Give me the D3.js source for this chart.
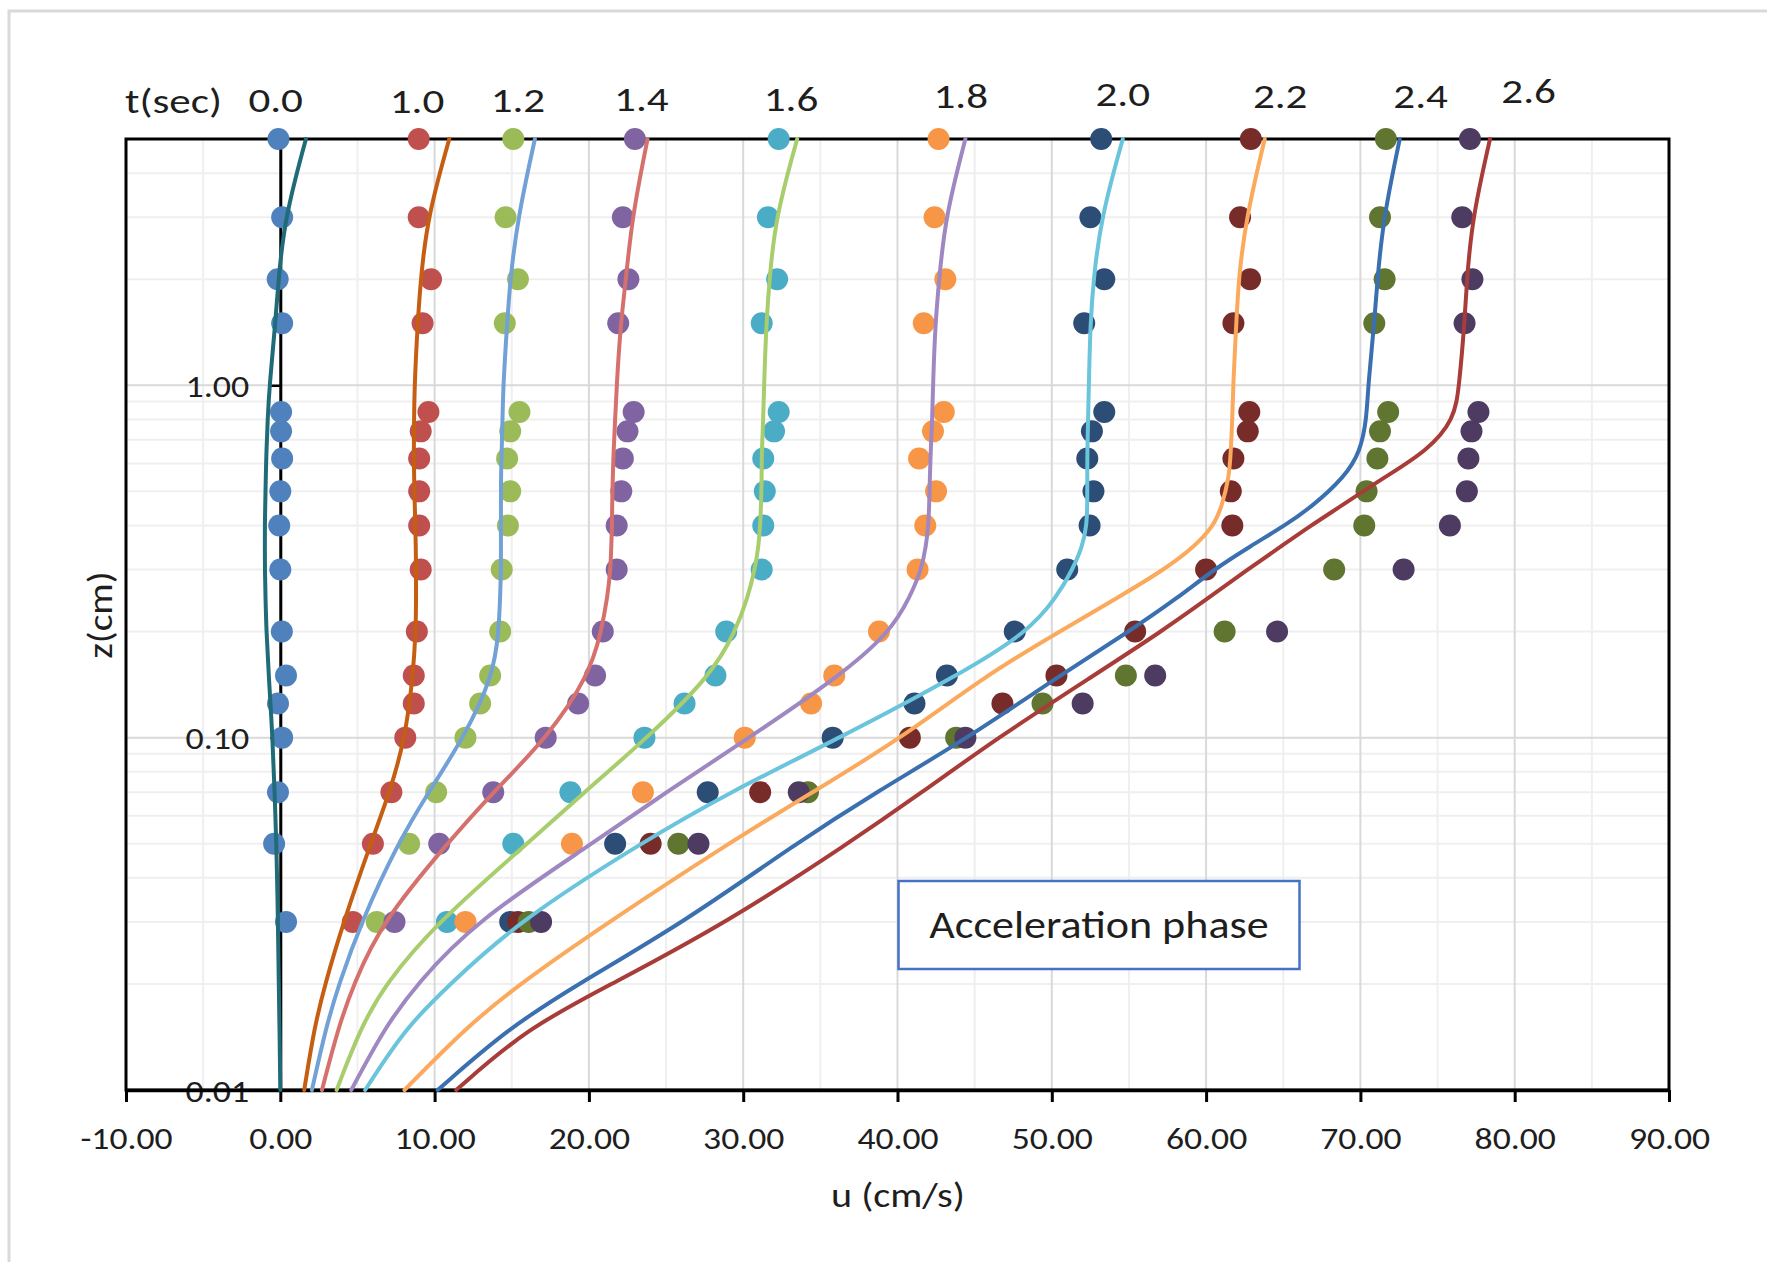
<!DOCTYPE html>
<html lang="en">
<head>
<meta charset="utf-8">
<script src="https://d3js.org/d3.v7.min.js"></script>
<style>
  body { margin: 0; background: #fff; }
  text { font-family: Calibri, Carlito, Lato, sans-serif; fill: #1e1e1e; }
</style>
</head>
<body>
<script>
  var w = 1767, h = 1262;

  // time of each profile (sec)
  var times = ["0.0", "1.0", "1.2", "1.4", "1.6", "1.8", "2.0", "2.2", "2.4", "2.6"];

  // measured points: heights (cm) and velocities (cm/s), one row per time
  var zPoints = [5, 3, 2, 1.5, 0.84, 0.74, 0.62, 0.5, 0.4, 0.3, 0.2, 0.15, 0.125, 0.1, 0.07, 0.05, 0.03];
  var uPoints = [
    [-0.12, 0.12, -0.17, 0.12, 0.05, 0.05, 0.12, 0.0, -0.07, 0.0, 0.1, 0.37, -0.15, 0.12, -0.15, -0.4, 0.37],
    [8.97, 8.97, 9.77, 9.22, 9.6, 9.1, 9.0, 9.0, 9.0, 9.1, 8.85, 8.65, 8.65, 8.1, 7.2, 6.0, 4.7],
    [15.1, 14.6, 15.4, 14.55, 15.5, 14.9, 14.7, 14.9, 14.75, 14.35, 14.25, 13.6, 12.95, 12.0, 10.1, 8.35, 6.25],
    [22.98, 22.2, 22.56, 21.9, 22.9, 22.5, 22.2, 22.1, 21.8, 21.8, 20.9, 20.4, 19.3, 17.2, 13.8, 10.3, 7.4],
    [32.3, 31.6, 32.2, 31.2, 32.3, 32.0, 31.3, 31.4, 31.3, 31.2, 28.9, 28.2, 26.2, 23.6, 18.8, 15.1, 10.8],
    [42.66, 42.4, 43.1, 41.7, 43.0, 42.3, 41.4, 42.5, 41.8, 41.3, 38.8, 35.9, 34.4, 30.1, 23.5, 18.9, 12.0],
    [53.2, 52.5, 53.4, 52.1, 53.4, 52.6, 52.3, 52.7, 52.45, 51.0, 47.6, 43.2, 41.1, 35.8, 27.7, 21.7, 14.9],
    [62.9, 62.2, 62.85, 61.77, 62.8, 62.7, 61.77, 61.6, 61.7, 60.0, 55.4, 50.3, 46.8, 40.8, 31.1, 24.0, 15.4],
    [71.65, 71.27, 71.57, 70.9, 71.8, 71.27, 71.1, 70.4, 70.25, 68.3, 61.2, 54.8, 49.4, 43.8, 34.2, 25.8, 16.1],
    [77.1, 76.6, 77.26, 76.75, 77.65, 77.2, 77.0, 76.9, 75.8, 72.8, 64.6, 56.7, 52.0, 44.4, 33.6, 27.1, 16.9]
  ];

  // model profiles: heights (cm) and velocities (cm/s), one row per time
  var zLine = [5, 3, 2, 1.5, 1, 0.8, 0.65, 0.55, 0.45, 0.4, 0.35, 0.3, 0.25, 0.2, 0.15, 0.1, 0.07, 0.05, 0.03, 0.02, 0.015, 0.01];
  var uLine = [
    [1.66, 0.3, -0.12, -0.32, -0.7, -0.82, -0.9, -0.94, -0.98, -1.0, -1.0, -1.0, -0.96, -0.9, -0.75, -0.5, -0.37, -0.25, -0.15, -0.1, -0.05, 0.0],
    [10.95, 9.54, 9.1, 8.9, 8.7, 8.67, 8.65, 8.67, 8.72, 8.75, 8.78, 8.8, 8.8, 8.78, 8.6, 8.1, 7.1, 5.85, 4.1, 2.9, 2.2, 1.55],
    [16.5, 15.4, 14.9, 14.7, 14.45, 14.4, 14.35, 14.3, 14.3, 14.3, 14.3, 14.3, 14.25, 14.15, 13.8, 11.9, 9.6, 7.6, 5.25, 3.8, 2.95, 2.05],
    [23.8, 22.8, 22.4, 22.06, 21.8, 21.7, 21.6, 21.55, 21.5, 21.5, 21.45, 21.4, 21.2, 20.8, 20.0, 17.3, 13.8, 10.8, 6.6, 4.75, 3.75, 2.7],
    [33.5, 32.1, 31.7, 31.5, 31.35, 31.3, 31.2, 31.2, 31.15, 31.1, 31.0, 30.75, 30.3, 29.5, 27.9, 23.8, 19.7, 16.0, 10.2, 6.8, 5.2, 3.65],
    [44.4, 43.1, 42.7, 42.45, 42.3, 42.25, 42.15, 42.1, 42.05, 42.0, 41.85, 41.55, 40.8, 39.55, 36.3, 30.4, 25.0, 20.2, 12.6, 8.85, 6.75, 4.6],
    [54.6, 53.2, 52.7, 52.5, 52.4, 52.35, 52.3, 52.3, 52.3, 52.25, 52.0, 51.35, 50.3, 48.5, 43.9, 36.3, 29.1, 23.3, 15.4, 11.0, 8.1, 5.5],
    [63.8, 62.6, 62.1, 61.96, 61.75, 61.7, 61.6, 61.5, 61.0, 60.5, 59.3, 57.3, 54.3, 50.5, 45.7, 40.3, 34.5, 29.0, 21.3, 15.5, 12.0, 8.05],
    [72.55, 71.5, 71.1, 70.9, 70.5, 70.4, 70.0, 69.0, 66.8, 65.1, 62.9, 60.5, 58.2, 55.0, 50.5, 44.6, 38.6, 33.4, 26.2, 19.3, 14.8, 10.2],
    [78.4, 77.26, 76.9, 76.75, 76.4, 76.1, 74.3, 71.6, 68.6, 66.8, 64.9, 62.7, 60.2, 57.1, 52.7, 46.5, 41.6, 36.8, 29.0, 21.5, 16.0, 11.4]
  ];

  var xTicks = d3.range(-10, 91, 10);
  var yTicks = [0.01, 0.1, 1];

  var dotColors = ["#4f81bd", "#c0504d", "#9bbb59", "#8064a2", "#4bacc6", "#f79646", "#2c4d75", "#772c2a", "#5f7530", "#4d3b62"];
  var lineColors = ["#1f6b78", "#c55e12", "#72a1d8", "#d6706c", "#a7cd6c", "#9f88c2", "#6ac5dc", "#fba95c", "#3a6fb0", "#a83c38"];

  // where the t labels sit above the plot: [u, baseline y]
  var tLabelPos = [[-0.3, 112], [8.86, 113], [15.4, 112], [23.4, 111], [33.1, 111], [44.1, 108], [54.6, 106], [64.8, 108], [73.9, 108], [80.9, 103]];

  var pLeft = 126, pRight = 1669, pTop = 139, pBottom = 1090;
  var fmt = function(d) { return d.toFixed(2); };

  // the source text is set wider than the font here, so widen it around its anchor
  function widen(sel, sx) {
    sel.each(function() {
      var t = d3.select(this);
      var tx = +t.attr("x") || 0, ty = +t.attr("y") || 0;
      t.attr("x", 0).attr("y", 0)
        .attr("transform", `translate(${tx},${ty}) scale(${sx},1)`);
    });
  }

  var x = d3.scaleLinear().domain([-10, 90]).range([pLeft, pRight]);
  var y = d3.scaleLog().domain([0.01, 5]).range([pBottom, pTop]);

  var svg = d3.select("body")
          .append("svg")
          .attr("width", w)
          .attr("height", h);

  // chart area frame (only left/top edges show)
  svg.append("rect")
    .attr("x", 9).attr("y", 11)
    .attr("width", w + 20).attr("height", h + 20)
    .attr("fill", "none")
    .attr("stroke", "#d9d9d9")
    .attr("stroke-width", 3);

  // grid
  var grid = svg.append("g");
  d3.range(-5, 90, 10).forEach(function(v) {
    grid.append("line")
      .attr("x1", x(v)).attr("x2", x(v)).attr("y1", pTop).attr("y2", pBottom)
      .attr("stroke", "#efefef").attr("stroke-width", 2);
  });
  var minorZ = [];
  [0.01, 0.1, 1].forEach(function(d) {
    for (let k = 2; k <= 9; k++) { if (d * k < 5) minorZ.push(d * k); }
  });
  minorZ.forEach(function(v) {
    grid.append("line")
      .attr("x1", pLeft).attr("x2", pRight).attr("y1", y(v)).attr("y2", y(v))
      .attr("stroke", "#efefef").attr("stroke-width", 2);
  });
  xTicks.forEach(function(v) {
    grid.append("line")
      .attr("x1", x(v)).attr("x2", x(v)).attr("y1", pTop).attr("y2", pBottom)
      .attr("stroke", "#d9d9d9").attr("stroke-width", 2);
  });
  [0.1, 1].forEach(function(v) {
    grid.append("line")
      .attr("x1", pLeft).attr("x2", pRight).attr("y1", y(v)).attr("y2", y(v))
      .attr("stroke", "#d9d9d9").attr("stroke-width", 2);
  });

  // y axis sits at u = 0
  var yAxis = svg.append("g")
          .attr("transform", `translate(${x(0)},0)`)
          .call(d3.axisLeft(y).tickValues(yTicks).tickFormat(fmt).tickSize(10).tickSizeOuter(0));
  yAxis.select(".domain").attr("stroke", "#000").attr("stroke-width", 3);
  yAxis.selectAll(".tick line").attr("stroke", "#000").attr("stroke-width", 2.5);
  yAxis.selectAll(".tick text")
    .attr("x", -31).attr("y", 11).attr("dy", 0)
    .style("font-size", "31px");
  widen(yAxis.selectAll(".tick text"), 1.16);

  // plot border
  svg.append("rect")
    .attr("x", pLeft).attr("y", pTop)
    .attr("width", pRight - pLeft).attr("height", pBottom - pTop)
    .attr("fill", "none")
    .attr("stroke", "#000")
    .attr("stroke-width", 3);

  var xAxis = svg.append("g")
          .attr("transform", `translate(0,${pBottom})`)
          .call(d3.axisBottom(x).tickValues(xTicks).tickFormat(fmt).tickSize(12).tickSizeOuter(0));
  xAxis.select(".domain").attr("stroke", "#000").attr("stroke-width", 3.5);
  xAxis.selectAll(".tick line").attr("stroke", "#000").attr("stroke-width", 3);
  xAxis.selectAll(".tick text")
    .attr("y", 59).attr("dy", 0)
    .style("font-size", "31px");
  widen(xAxis.selectAll(".tick text"), 1.15);

  // measured points
  for (let i = 0; i < times.length; i++) {
    svg.append("g")
      .selectAll("circle")
      .data(zPoints.map(function(z, j) { return {z: z, u: uPoints[i][j]}; }))
      .join("circle")
      .attr("cx", function(d) { return x(d.u); })
      .attr("cy", function(d) { return y(d.z); })
      .attr("r", 11)
      .attr("fill", dotColors[i]);
  }

  // model lines
  var line = d3.line()
          .x(function(d) { return x(d.u); })
          .y(function(d) { return y(d.z); })
          .curve(d3.curveBasis);

  for (let i = 0; i < times.length; i++) {
    var pts = zLine.map(function(z, j) { return {z: z, u: uLine[i][j]}; })
            .sort(function(a, b) { return a.z - b.z; });
    svg.append("path")
      .attr("d", line(pts))
      .attr("fill", "none")
      .attr("stroke", lineColors[i])
      .attr("stroke-width", 4)
      .attr("stroke-linecap", "round");
  }

  // t labels
  var tsec = svg.append("text")
    .attr("x", 125).attr("y", 113)
    .style("font-size", "35px")
    .text("t(sec)");
  widen(tsec, 1.23);
  var tlabs = svg.selectAll("text.tlab")
    .data(times)
    .join("text")
    .attr("class", "tlab")
    .attr("x", function(d, i) { return x(tLabelPos[i][0]); })
    .attr("y", function(d, i) { return tLabelPos[i][1]; })
    .attr("text-anchor", "middle")
    .style("font-size", "35px")
    .text(function(d) { return d; });
  widen(tlabs, 1.23);

  // axis titles
  var xt = svg.append("text")
    .attr("x", 898).attr("y", 1207)
    .attr("text-anchor", "middle")
    .style("font-size", "34px")
    .text("u (cm/s)");
  widen(xt, 1.18);
  svg.append("text")
    .attr("transform", "translate(112,615) rotate(-90) scale(1.16,1)")
    .attr("text-anchor", "middle")
    .style("font-size", "34px")
    .text("z(cm)");

  // note box
  svg.append("rect")
    .attr("x", 898.5).attr("y", 881)
    .attr("width", 401).attr("height", 88)
    .attr("fill", "#fff")
    .attr("stroke", "#4472c4")
    .attr("stroke-width", 2.5);
  var note = svg.append("text")
    .attr("x", 1099).attr("y", 938)
    .attr("text-anchor", "middle")
    .style("font-size", "38px")
    .text("Acceleration phase");
  widen(note, 1.16);
</script>
</body>
</html>
